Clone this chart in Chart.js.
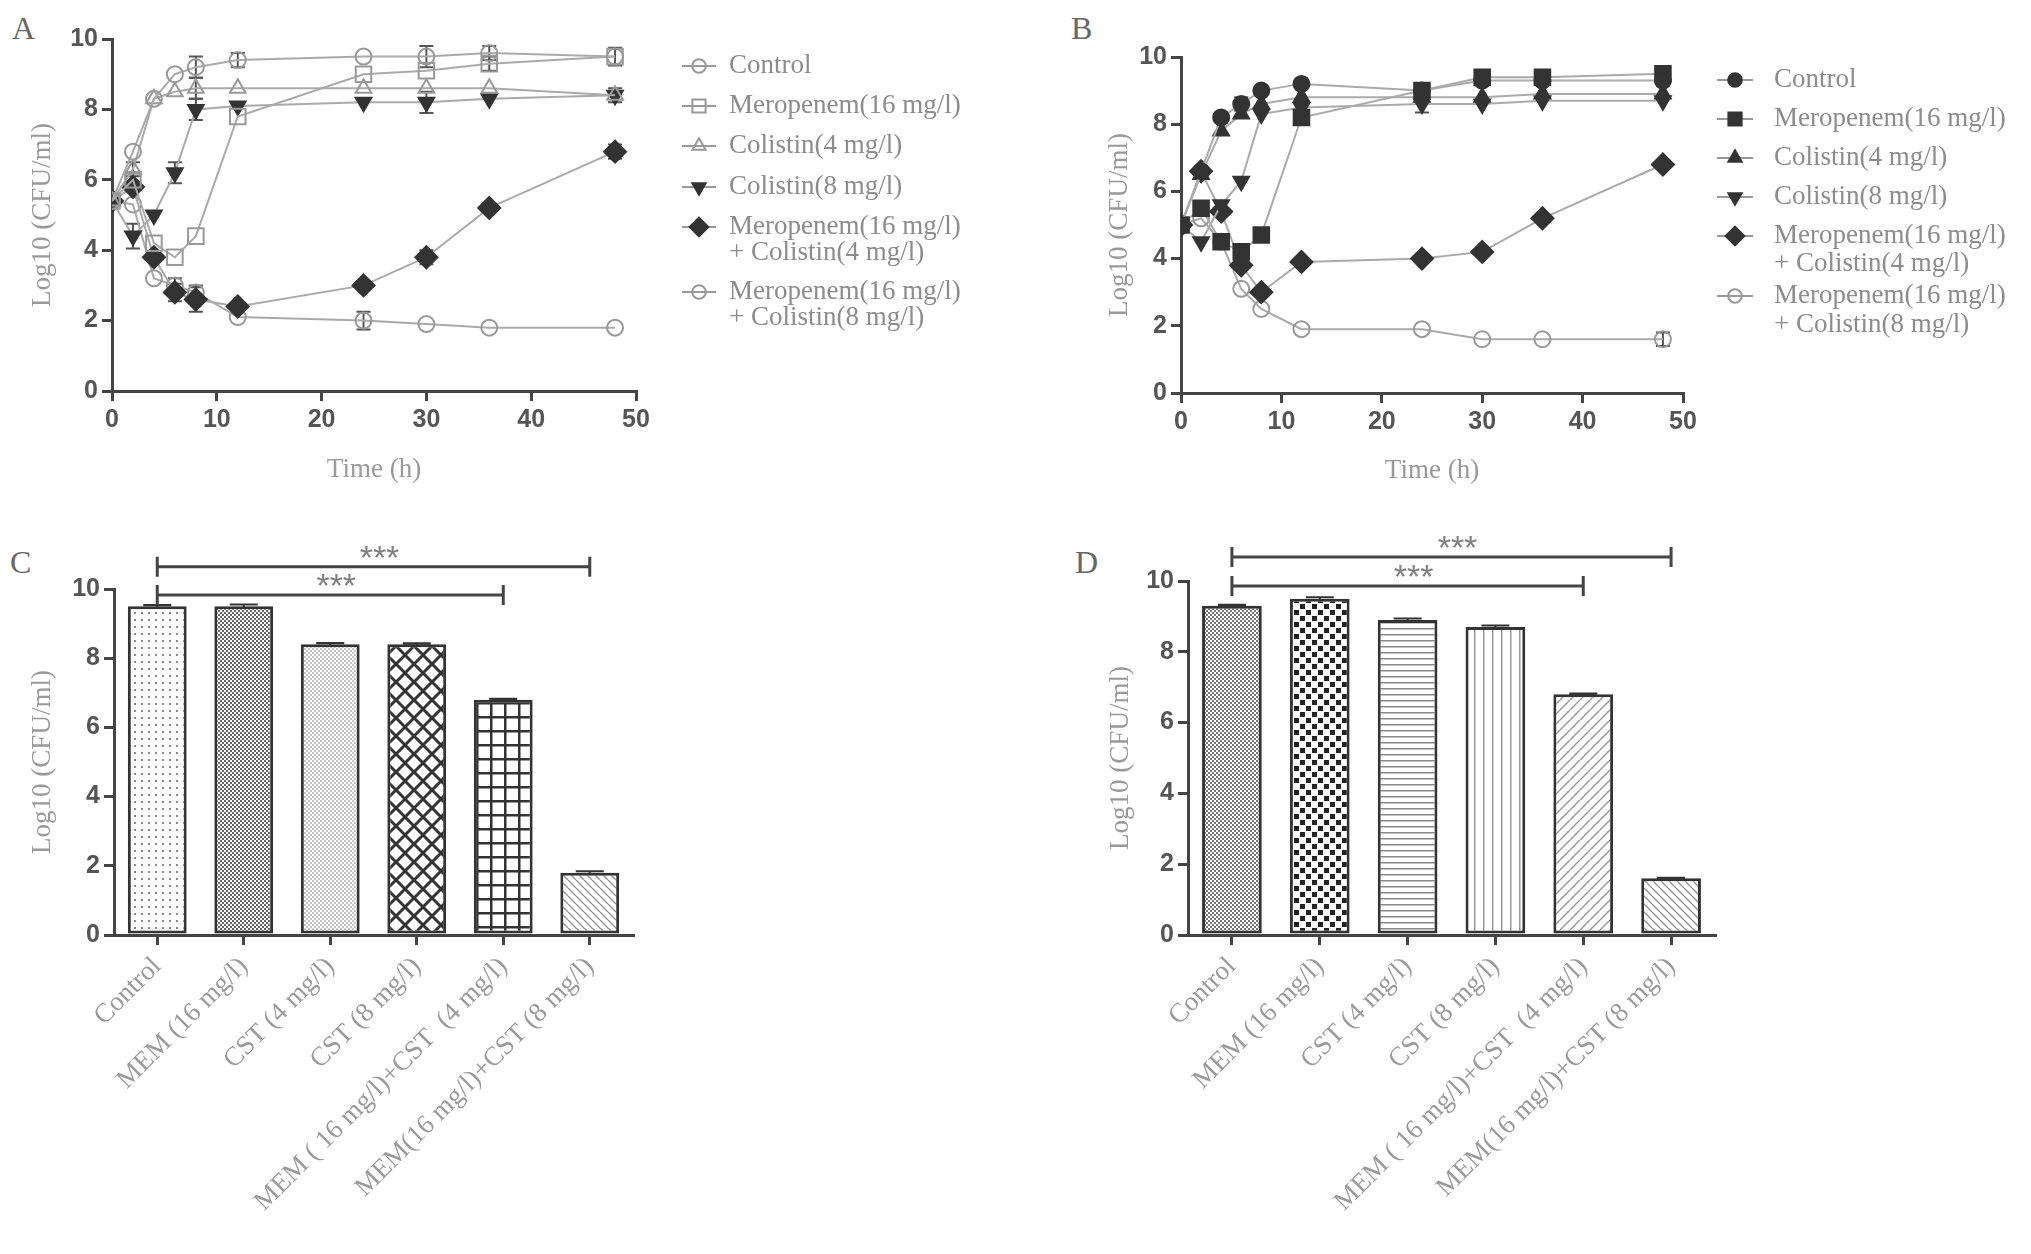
<!DOCTYPE html>
<html>
<head>
<meta charset="utf-8">
<script src="https://cdn.jsdelivr.net/npm/chart.js@4.4.1/dist/chart.umd.min.js"></script>
<style>
  body { margin: 0; background: #fff; width: 2031px; height: 1254px; position: relative; overflow: hidden; }
  canvas { position: absolute; }
  .tag { position: absolute; font-family: 'Liberation Serif', serif; font-size: 32px; color: #666; line-height: 1; }
</style>
</head>
<body>
<div class="tag" style="left:12px;top:12px">A</div>
<div class="tag" style="left:1071px;top:12px">B</div>
<div class="tag" style="left:10px;top:546px">C</div>
<div class="tag" style="left:1075px;top:546px">D</div>
<canvas id="chartA" width="1060" height="500" style="left:0;top:0"></canvas>
<canvas id="chartB" width="971" height="500" style="left:1060px;top:0"></canvas>
<canvas id="chartC" width="700" height="734" style="left:0;top:520px"></canvas>
<canvas id="chartD" width="700" height="734" style="left:1060px;top:520px"></canvas>
<script>
/******************** Data ********************/

var hours = [0, 2, 4, 6, 8, 12, 24, 30, 36, 48];
var lineNames = [["Control"], ["Meropenem(16 mg/l)"], ["Colistin(4 mg/l)"], ["Colistin(8 mg/l)"],
                 ["Meropenem(16 mg/l)", "+ Colistin(4 mg/l)"], ["Meropenem(16 mg/l)", "+ Colistin(8 mg/l)"]];

// panel A
var aControl  = [5.4, 6.8, 8.3, 9.0, 9.2, 9.4, 9.5, 9.5, 9.6, 9.5];
var aMero     = [5.4, 6.0, 4.2, 3.8, 4.4, 7.8, 9.0, 9.1, 9.3, 9.5];
var aCol4     = [5.4, 6.3, 8.3, 8.5, 8.6, 8.6, 8.6, 8.6, 8.6, 8.4];
var aCol8     = [5.4, 4.4, 5.0, 6.2, 8.0, 8.1, 8.2, 8.2, 8.3, 8.4];
var aMemCol4  = [5.4, 5.8, 3.8, 2.8, 2.6, 2.4, 3.0, 3.8, 5.2, 6.8];
var aMemCol8  = [5.4, 5.3, 3.2, 3.0, 2.8, 2.1, 2.0, 1.9, 1.8, 1.8];
var aControlErr = [0, 0, 0, 0, 0.3, 0.2, 0, 0.3, 0.2, 0.25];
var aMeroErr    = [0, 0, 0, 0, 0, 0, 0, 0, 0.2, 0];
var aCol4Err    = [0, 0.2, 0, 0, 0.3, 0, 0, 0, 0, 0];
var aCol8Err    = [0, 0.35, 0, 0.3, 0.3, 0, 0, 0.3, 0, 0.2];
var aMemCol4Err = [0, 0, 0, 0.25, 0.35, 0, 0, 0.2, 0, 0.2];
var aMemCol8Err = [0, 0, 0, 0.2, 0.2, 0, 0.25, 0, 0, 0];

// panel B
var bControl  = [5.0, 6.6, 8.2, 8.6, 9.0, 9.2, 9.0, 9.3, 9.3, 9.3];
var bMero     = [5.0, 5.5, 4.5, 4.2, 4.7, 8.2, 9.0, 9.4, 9.4, 9.5];
var bCol4     = [5.0, 6.5, 7.8, 8.3, 8.6, 8.8, 8.8, 8.8, 8.9, 8.9];
var bCol8     = [5.0, 4.5, 5.6, 6.3, 8.3, 8.5, 8.6, 8.6, 8.7, 8.7];
var bMemCol4  = [5.0, 6.6, 5.4, 3.8, 3.0, 3.9, 4.0, 4.2, 5.2, 6.8];
var bMemCol8  = [5.0, 5.2, 4.5, 3.1, 2.5, 1.9, 1.9, 1.6, 1.6, 1.6];
var bControlErr = [0, 0, 0, 0.2, 0, 0, 0, 0, 0, 0];
var bCol8Err    = [0, 0, 0, 0, 0, 0, 0.25, 0, 0, 0];
var bMemCol8Err = [0, 0, 0, 0, 0, 0, 0, 0, 0, 0.2];
var noErr       = [0, 0, 0, 0, 0, 0, 0, 0, 0, 0];

// panels C and D
var barLabels = ["Control", "MEM (16 mg/l)", "CST (4 mg/l)", "CST (8 mg/l)",
                 "MEM ( 16 mg/l)+CST  (4 mg/l)", "MEM(16 mg/l)+CST (8 mg/l)"];
var cValues = [9.5, 9.5, 8.4, 8.4, 6.8, 1.8];
var cErr    = [0.04, 0.05, 0.04, 0.03, 0.03, 0.04];
var dValues = [9.3, 9.5, 8.9, 8.7, 6.8, 1.6];
var dErr    = [0.03, 0.04, 0.04, 0.04, 0.02, 0.02];

/******************** Styles ********************/

var axisColor = "#444";
var tickFont = { family: "Liberation Sans", size: 25, weight: "bold" };
var serifFont = { family: "Liberation Serif", size: 27 };

var openGrey = { bg: "rgba(255,255,255,0)", border: "#999" };
var filled = { bg: "#333", border: "#333" };

function lineSet(name, values, err, style, pointStyle, radius, rotation) {
  return {
    label: name.join(" "),
    names: name,
    data: hours.map(function(h, i) { return { x: h, y: values[i] }; }),
    errors: err,
    borderColor: "#aaa",
    borderWidth: 2,
    tension: 0,
    pointStyle: pointStyle,
    pointRadius: radius,
    pointRotation: rotation || 0,
    pointBackgroundColor: style.bg,
    pointBorderColor: style.border,
    pointBorderWidth: 2
  };
}

/******************** Plugins ********************/

// vertical error bars drawn through the library's scales
function errorBars(layer) {
  var hook = layer == "before" ? "beforeDatasetsDraw" : "afterDatasetsDraw";
  var p = { id: "errorBars" };
  p[hook] = function(chart) {
    var ctx = chart.ctx, y = chart.scales.y;
    chart.data.datasets.forEach(function(ds, i) {
      if (!ds.errors) return;
      var meta = chart.getDatasetMeta(i);
      ctx.save();
      ctx.strokeStyle = ds.errorColor || "#555";
      ctx.lineWidth = 2;
      ds.errors.forEach(function(e, j) {
        if (!e) return;
        var v = typeof ds.data[j] == "object" ? ds.data[j].y : ds.data[j];
        var px = meta.data[j].x;
        var top = y.getPixelForValue(v + e), bot = y.getPixelForValue(v - e);
        var cap = ds.capWidth || 7;
        ctx.beginPath();
        ctx.moveTo(px, top); ctx.lineTo(px, bot);
        ctx.moveTo(px - cap, top); ctx.lineTo(px + cap, top);
        ctx.moveTo(px - cap, bot); ctx.lineTo(px + cap, bot);
        ctx.stroke();
      });
      ctx.restore();
    });
  };
  return p;
}

function sideLegend(cfg) {
  return {
    id: "sideLegend",
    afterDraw: function(chart) {
      var ctx = chart.ctx;
      chart.data.datasets.forEach(function(ds, i) {
        var rows = cfg.rows[i];
        ctx.save();
        ctx.strokeStyle = "#999";
        ctx.lineWidth = 2;
        ctx.beginPath();
        ctx.moveTo(cfg.x - cfg.half, rows[0]);
        ctx.lineTo(cfg.x + cfg.half, rows[0]);
        ctx.stroke();
        ctx.fillStyle = ds.pointBackgroundColor;
        ctx.strokeStyle = ds.pointBorderColor;
        ctx.lineWidth = 2;
        Chart.helpers.drawPoint(ctx, { pointStyle: ds.pointStyle, rotation: ds.pointRotation,
          radius: ds.pointRadius * 0.85, borderWidth: 2 }, cfg.x, rows[0]);
        ctx.fillStyle = "#8c8c8c";
        ctx.font = "27px 'Liberation Serif'";
        ctx.textBaseline = "middle";
        ctx.textAlign = "left";
        ds.names.forEach(function(t, k) { ctx.fillText(t, cfg.textX, rows[k]); });
        ctx.restore();
      });
    }
  };
}

function sigBrackets(items) {
  return {
    id: "sigBrackets",
    afterDraw: function(chart) {
      var ctx = chart.ctx, x = chart.scales.x, y = chart.scales.y;
      ctx.save();
      ctx.strokeStyle = axisColor;
      ctx.lineWidth = 3;
      ctx.fillStyle = "#808080";
      ctx.font = "34px 'Liberation Sans'";
      ctx.textAlign = "center";
      ctx.textBaseline = "alphabetic";
      items.forEach(function(it) {
        var x1 = x.getPixelForValue(it.from), x2 = x.getPixelForValue(it.to);
        var py = y.getPixelForValue(it.value);
        ctx.beginPath();
        ctx.moveTo(x1, py); ctx.lineTo(x2, py);
        ctx.moveTo(x1, py - 10); ctx.lineTo(x1, py + 10);
        ctx.moveTo(x2, py - 10); ctx.lineTo(x2, py + 10);
        ctx.stroke();
        ctx.fillText("***", (x1 + x2) / 2 + 6, py + 2);
      });
      ctx.restore();
    }
  };
}

/******************** Bar fill patterns ********************/

function tile(w, h, paint) {
  var c = document.createElement("canvas");
  c.width = w; c.height = h;
  var g = c.getContext("2d");
  g.fillStyle = "#fff";
  g.fillRect(0, 0, w, h);
  paint(g, w, h);
  return g.createPattern(c, "repeat");
}
function checker(size, color) {
  return tile(size * 2, size * 2, function(g) {
    g.fillStyle = color;
    g.fillRect(0, 0, size, size);
    g.fillRect(size, size, size, size);
  });
}
function spots(step, dot, color) {
  // squares set out in a checker order, white between them
  return tile(step, step, function(g) {
    g.fillStyle = color;
    g.fillRect(0, 0, dot, dot);
    g.fillRect(step / 2, step / 2, dot, dot);
  });
}
function dots(step, dot, color) {
  return tile(step, step, function(g) { g.fillStyle = color; g.fillRect(1, 1, dot, dot); });
}
function diag(step, color, width, back) {
  return tile(step, step, function(g, w, h) {
    g.strokeStyle = color; g.lineWidth = width;
    [-step, 0, step].forEach(function(o) {
      g.beginPath();
      if (back) { g.moveTo(o, 0); g.lineTo(o + w, h); }
      else { g.moveTo(o, h); g.lineTo(o + w, 0); }
      g.stroke();
    });
  });
}
function cross(step, color, width) {
  return tile(step, step, function(g, w, h) {
    g.strokeStyle = color; g.lineWidth = width;
    [-step, 0, step].forEach(function(o) {
      g.beginPath();
      g.moveTo(o, 0); g.lineTo(o + w, h);
      g.moveTo(o, h); g.lineTo(o + w, 0);
      g.stroke();
    });
  });
}
function grid(step, color, width) {
  return tile(step, step, function(g) {
    g.fillStyle = color;
    g.fillRect(0, 0, step, width);
    g.fillRect(0, 0, width, step);
  });
}
function stripes(step, color, width, vertical) {
  return tile(step, step, function(g) {
    g.fillStyle = color;
    if (vertical) g.fillRect(0, 0, width, step); else g.fillRect(0, 0, step, width);
  });
}

var cFills = [dots(7, 2, "#8a8a8a"), checker(2, "#666"), checker(2, "#c4c4c4"),
              cross(18, "#333", 3), grid(14, "#333", 2.5), diag(8, "#999", 1.5, true)];
var dFills = [checker(2, "#777"), spots(12, 5, "#222"), stripes(6, "#888", 1.5, false),
              stripes(9, "#999", 1.5, true), diag(10, "#999", 1.5, false), diag(8, "#999", 1.5, true)];

/******************** Shared axis setup ********************/

function yAxis(width, titlePad) {
  return {
    min: 0, max: 10,
    ticks: { stepSize: 2, font: tickFont, color: "#555", padding: 4 },
    grid: { drawOnChartArea: false, color: axisColor, lineWidth: 3, tickLength: 10 },
    border: { color: axisColor, width: 3 },
    title: { display: true, text: "Log10 (CFU/ml)", font: serifFont, color: "#999",
             padding: { top: titlePad, bottom: 0 } },
    afterFit: function(s) { s.width = width; }
  };
}

function timeAxis(height, titlePad) {
  return {
    type: "linear", min: 0, max: 50,
    ticks: { stepSize: 10, font: tickFont, color: "#555", padding: 4 },
    grid: { drawOnChartArea: false, color: axisColor, lineWidth: 3, tickLength: 10 },
    border: { color: axisColor, width: 3 },
    title: { display: true, text: "Time (h)", font: serifFont, color: "#999",
             padding: { top: 0, bottom: titlePad } },
    afterFit: function(s) { s.height = height; }
  };
}

function groupAxis(height) {
  return {
    type: "category", offset: true,
    ticks: { autoSkip: false, minRotation: 45, maxRotation: 45, padding: 6,
             font: { family: "Liberation Serif", size: 27 }, color: "#9a9a9a" },
    grid: { offset: false, drawOnChartArea: false, color: axisColor, lineWidth: 3, tickLength: 10 },
    border: { color: axisColor, width: 3 },
    afterFit: function(s) { s.height = height; }
  };
}

var baseOptions = { responsive: false, animation: false, events: [],
  plugins: { legend: { display: false }, tooltip: { enabled: false } } };

function opts(padding, scales) {
  return Object.assign({}, baseOptions, { layout: { padding: padding }, scales: scales });
}

/******************** Panel A ********************/

new Chart("chartA", {
  type: "line",
  data: {
    datasets: [
      lineSet(lineNames[0], aControl, aControlErr, openGrey, "circle", 8),
      lineSet(lineNames[1], aMero, aMeroErr, openGrey, "rect", 11),
      lineSet(lineNames[2], aCol4, aCol4Err, openGrey, "triangle", 9),
      lineSet(lineNames[3], aCol8, aCol8Err, filled, "triangle", 9, 180),
      lineSet(lineNames[4], aMemCol4, aMemCol4Err, filled, "rectRot", 11),
      lineSet(lineNames[5], aMemCol8, aMemCol8Err, openGrey, "circle", 8)
    ]
  },
  options: opts({ top: 39, right: 424, left: 0, bottom: 0 },
               { x: timeAxis(109, 14), y: yAxis(112, 27) }),
  plugins: [errorBars("before"),
            sideLegend({ x: 699, half: 17, textX: 729, rows: [[66], [106], [146], [187], [227, 253], [292, 318]] })]
});

/******************** Panel B ********************/

new Chart("chartB", {
  type: "line",
  data: {
    datasets: [
      lineSet(lineNames[0], bControl, bControlErr, filled, "circle", 8),
      lineSet(lineNames[1], bMero, noErr, filled, "rect", 11),
      lineSet(lineNames[2], bCol4, noErr, filled, "triangle", 9),
      lineSet(lineNames[3], bCol8, bCol8Err, filled, "triangle", 9, 180),
      lineSet(lineNames[4], bMemCol4, noErr, filled, "rectRot", 11),
      lineSet(lineNames[5], bMemCol8, bMemCol8Err, openGrey, "circle", 8)
    ]
  },
  options: opts({ top: 57, right: 348, left: 0, bottom: 0 },
               { x: timeAxis(107, 13), y: yAxis(121, 44) }),
  plugins: [errorBars("before"),
            sideLegend({ x: 675, half: 18, textX: 714, rows: [[80], [119], [158], [197], [236, 264], [296, 325]] })]
});

/******************** Panels C and D ********************/

function barChart(id, values, err, fills, padding, yWidth, yPad, brackets) {
  new Chart(id, {
    type: "bar",
    data: {
      labels: barLabels,
      datasets: [{
        data: values,
        errors: err,
        capWidth: 14,
        errorColor: "#333",
        backgroundColor: fills,
        borderColor: "#333",
        borderWidth: 3,
        borderSkipped: false,
        barPercentage: 0.68,
        categoryPercentage: 1
      }]
    },
    options: opts(padding, { x: groupAxis(319), y: yAxis(yWidth, yPad) }),
    plugins: [errorBars("after"), sigBrackets(brackets)]
  });
}

barChart("chartC", cValues, cErr, cFills, { top: 69, right: 67, left: 0, bottom: 0 }, 114, 27,
         [{ from: 0, to: 5, value: 10.64 }, { from: 0, to: 4, value: 9.83 }]);
barChart("chartD", dValues, dErr, dFills, { top: 61, right: 45, left: 0, bottom: 0 }, 128, 45,
         [{ from: 0, to: 5, value: 10.68 }, { from: 0, to: 4, value: 9.86 }]);
</script>
</body>
</html>
